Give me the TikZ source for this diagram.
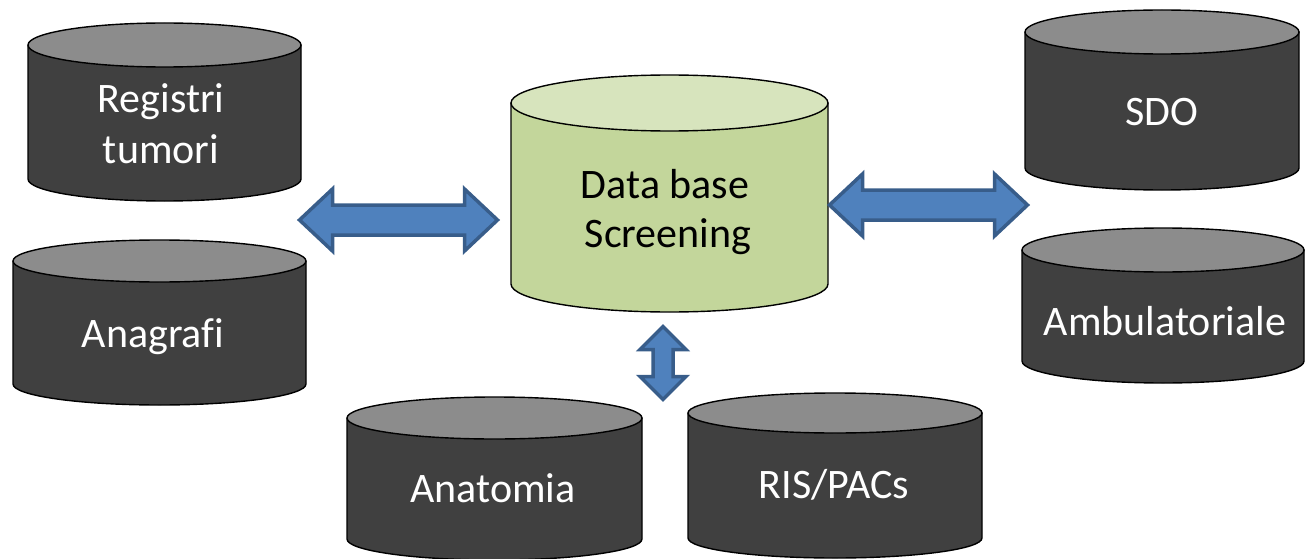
\documentclass[tikz,border=0pt]{standalone}
\usepackage{fontspec}
\setmainfont[Ligatures=NoCommon]{Carlito}
\definecolor{dkbodyc}{RGB}{64,64,64}
\definecolor{dktopc}{RGB}{140,140,140}
\definecolor{grbodyc}{RGB}{195,214,155}
\definecolor{grtopc}{RGB}{215,228,189}
\definecolor{arrfill}{RGB}{79,129,189}
\definecolor{arrline}{RGB}{56,93,138}
\tikzset{
  dkbody/.style={fill=dkbodyc,draw=black,line width=1.4pt,line join=round},
  dktop/.style={fill=dktopc,draw=black,line width=1.4pt},
  grbody/.style={fill=grbodyc,draw=black,line width=1.4pt,line join=round},
  grtop/.style={fill=grtopc,draw=black,line width=1.4pt},
  dklabel/.style={text=white,font=\fontsize{42}{50}\selectfont,align=center,anchor=base,inner sep=0pt},
  grlabel/.style={text=black,font=\fontsize{42}{50}\selectfont,align=center,anchor=base,inner sep=0pt},
  blockarrow/.style={fill=arrfill,draw=arrline,line width=3.5pt,line join=miter}
}
% #1 name, #2 left, #3 right, #4 top, #5 bottom, #6 ry, #7 kind (dk/gr)
\newcommand{\dbcyl}[7]{%
  \pgfmathsetmacro\cylcx{(#2+#3)/2}%
  \pgfmathsetmacro\cylrx{(#3-#2)/2}%
  \pgfmathsetmacro\cylty{#4+#6}%
  \pgfmathsetmacro\cylby{#5-#6}%
  \path[#7body] (#2,\cylty) -- (#2,\cylby)
     arc[start angle=180,end angle=0,x radius=\cylrx,y radius=#6]
     -- (#3,\cylty) -- cycle;
  \path[#7top] (\cylcx,\cylty) ellipse[x radius=\cylrx,y radius=#6];
  \coordinate (#1) at (\cylcx,\cylty);
}
% horizontal double arrow: #1 x1, #2 x2, #3 yc, #4 head half, #5 shaft half, #6 head length
\newcommand{\hdarrow}[6]{%
  \draw[blockarrow] (#1,#3) -- ({#1+#6},{#3-#4}) -- ({#1+#6},{#3-#5}) -- ({#2-#6},{#3-#5})
    -- ({#2-#6},{#3-#4}) -- (#2,#3) -- ({#2-#6},{#3+#4}) -- ({#2-#6},{#3+#5})
    -- ({#1+#6},{#3+#5}) -- ({#1+#6},{#3+#4}) -- cycle;
}
% vertical double arrow: #1 y1, #2 y2, #3 xc, #4 head half, #5 shaft half, #6 head length
\newcommand{\vdarrow}[6]{%
  \draw[blockarrow] (#3,#1) -- ({#3+#4},{#1+#6}) -- ({#3+#5},{#1+#6}) -- ({#3+#5},{#2-#6})
    -- ({#3+#4},{#2-#6}) -- (#3,#2) -- ({#3-#4},{#2-#6}) -- ({#3-#5},{#2-#6})
    -- ({#3-#5},{#1+#6}) -- ({#3-#4},{#1+#6}) -- cycle;
}
\begin{document}
\begin{tikzpicture}[x=1pt,y=-1pt]
\useasboundingbox (0,0) rectangle (1306,559);
% cylinders
\dbcyl{creg}{28}{301}{23}{201}{22}{dk}
\dbcyl{cana}{13}{306}{240}{405}{21}{dk}
\dbcyl{cdb}{511}{828}{75}{312}{28}{gr}
\dbcyl{csdo}{1025}{1299}{10}{190}{22}{dk}
\dbcyl{camb}{1022}{1304}{228}{383}{22}{dk}
\dbcyl{cant}{347}{642}{397}{560}{21}{dk}
\dbcyl{cris}{688}{982}{393}{558}{20}{dk}
% labels
\node[dklabel] (reg) at (161,113) {Registri};
\node[dklabel] (tum) at (161,163) {tumori};
\node[dklabel] (ana) at (153,347) {Anagrafi};
\node[grlabel] (dat) at (665,198) {Data base};
\node[grlabel] (scr) at (668,247) {Screening};
\node[dklabel] (sdo) at (1162,125) {SDO};
\node[dklabel] (amb) at (1165,335) {Ambulatoriale};
\node[dklabel] (anat) at (493,502) {Anatomia};
\node[dklabel] (ris) at (834,498) {RIS/PACs};
% arrows
\hdarrow{299.5}{497.5}{220}{31}{15}{33}
\hdarrow{829.5}{1027.5}{205}{31}{15}{33}
\vdarrow{326.5}{399.5}{663}{23}{10}{23}
\end{tikzpicture}
\end{document}
